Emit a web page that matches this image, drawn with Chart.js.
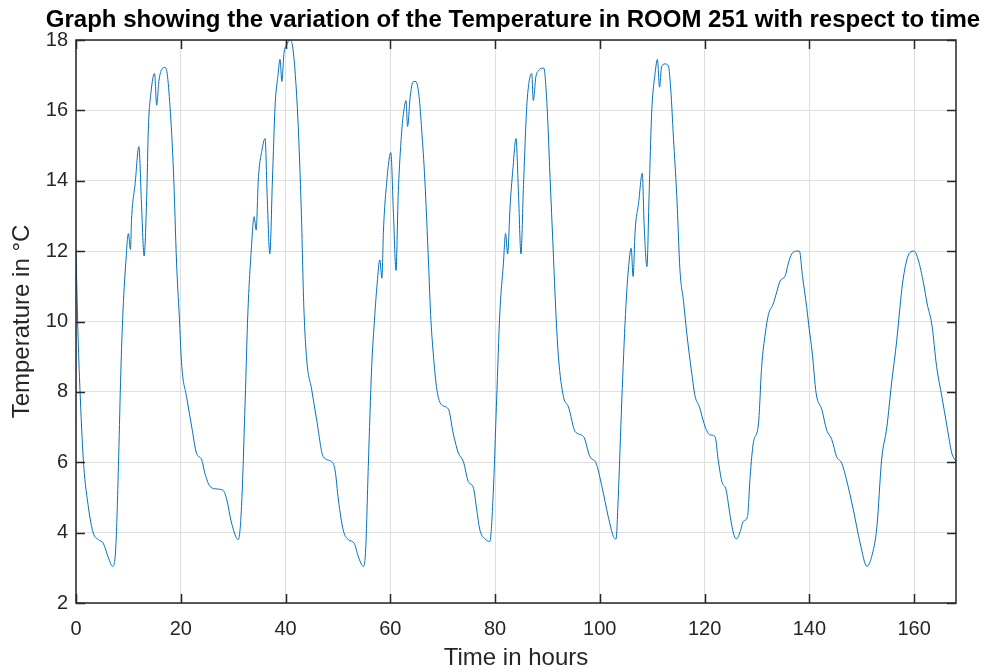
<!DOCTYPE html>
<html>
<head>
<meta charset="utf-8">
<script src="https://cdn.jsdelivr.net/npm/chart.js@4.4.1/dist/chart.umd.min.js"></script>
<style>
  html, body { margin: 0; padding: 0; background: #ffffff; }
  #c { display: block; }
</style>
</head>
<body>
<canvas id="c" width="989" height="670"></canvas>
<script>
// ---- data ----
const titleText = "Graph showing the variation of the Temperature in ROOM 251 with respect to time";
const xLabel = "Time in hours";
const yLabel = "Temperature in \u00B0C";

const hours = [
  0, 0.35, 0.76, 1.4, 2.35, 3.3, 4.27, 5.2, 6.2, 7.0, 7.6, 8.1, 8.5, 8.9, 9.5, 10.0, 10.4, 10.6, 11.3, 12.0,
  12.5, 13.0, 13.5, 13.8, 14.3, 15.0, 15.4, 15.85, 16.4, 17.0, 17.4, 17.95, 18.6, 19.2, 19.7, 20.2, 21.1, 22.1, 23.0, 24.0,
  24.6, 25.6, 26.9, 28.1, 28.8, 29.7, 31.0, 31.6, 32.3, 32.8, 33.5, 34.0, 34.4, 34.8, 35.5, 36.1, 36.5, 37.0, 37.5, 38.0,
  38.6, 38.95, 39.3, 39.7, 40.2, 40.9, 41.3, 41.8, 42.4, 43.0, 43.5, 44.05, 45.0, 45.95, 47.2, 48.8, 49.45, 50.1, 51.0, 52.0,
  53.1, 53.9, 54.85, 55.3, 55.8, 56.45, 56.9, 57.5, 58.0, 58.4, 58.7, 59.3, 60.1, 60.6, 61.1, 61.5, 62.2, 62.6, 63.0, 63.3,
  63.8, 64.4, 64.9, 65.5, 66.0, 66.6, 67.3, 67.7, 68.2, 68.9, 69.8, 71.1, 72.0, 73.0, 73.95, 74.9, 75.9, 76.5, 77.1, 78.1,
  79.0, 79.6, 80.3, 80.9, 81.6, 82.0, 82.4, 82.9, 83.4, 84.0, 84.45, 84.95, 85.4, 86.05, 86.55, 87.0, 87.3, 87.8, 88.3, 88.9,
  89.3, 89.9, 90.5, 91.1, 91.6, 92.1, 93.05, 94.0, 95.3, 96.9, 98.1, 99.3, 100.4, 101.6, 102.6, 103.1, 103.5, 104.2, 104.9, 105.45,
  106.0, 106.35, 106.75, 107.4, 108.1, 108.5, 109.0, 109.4, 109.9, 110.55, 111.0, 111.4, 111.8, 112.45, 113.1, 113.55, 114.05, 114.7, 115.3, 116.0,
  116.6, 117.55, 118.2, 119.0, 120.1, 121.0, 122.0, 122.6, 123.3, 124.1, 124.9, 125.5, 126.1, 126.8, 127.4, 128.2, 128.7, 129.3, 130.3, 130.9,
  131.6, 132.2, 133.1, 133.8, 134.4, 135.4, 136.0, 136.65, 137.6, 138.1, 138.7, 139.5, 140.0, 140.5, 141.3, 142.4, 143.3, 144.3, 145.2, 146.2,
  147.1, 148.4, 149.7, 151.0, 151.9, 152.9, 153.8, 154.8, 155.7, 156.7, 157.3, 157.8, 158.6, 159.2, 160.0, 160.8, 161.8, 162.5, 163.4, 164.3,
  165.3, 166.3, 167.2, 168.0
];

const tempC = [
  12.0, 9.8, 8.06, 6.07, 4.74, 3.99, 3.8, 3.7, 3.28, 3.04, 3.6, 5.88, 8.26, 10.05, 11.66, 12.5, 12.05, 12.89, 13.93, 14.97,
  13.36, 11.86, 13.55, 15.44, 16.49, 17.05, 16.15, 16.86, 17.17, 17.22, 17.05, 16.1, 14.3, 11.66, 10.2, 8.72, 7.87, 7.0, 6.26, 6.07,
  5.69, 5.31, 5.24, 5.2, 4.93, 4.27, 3.8, 4.74, 7.77, 10.2, 12.13, 12.98, 12.6, 14.02, 14.87, 15.2, 13.55, 11.92, 14.02, 16.1,
  17.05, 17.45, 16.82, 17.62, 17.86, 18.0, 17.86, 17.15, 15.63, 13.2, 10.4, 8.91, 8.06, 7.2, 6.16, 6.02, 5.78, 4.93, 4.08, 3.8,
  3.7, 3.32, 3.04, 3.51, 5.88, 8.72, 9.86, 11.09, 11.75, 11.23, 12.6, 13.93, 14.8, 13.08, 11.45, 13.55, 15.44, 16.01, 16.28, 15.54,
  16.39, 16.82, 16.82, 16.39, 15.44, 14.02, 11.66, 10.2, 9.1, 8.06, 7.63, 7.51, 6.83, 6.26, 6.02, 5.45, 5.26, 4.65, 4.08, 3.82,
  3.75, 4.93, 7.77, 10.2, 11.66, 12.5, 11.92, 13.36, 14.31, 15.2, 13.74, 11.92, 13.74, 16.1, 16.86, 17.05, 16.28, 16.96, 17.13, 17.2,
  17.2, 16.2, 14.1, 12.03, 10.3, 9.0, 7.87, 7.58, 6.87, 6.73, 6.16, 5.97, 5.31, 4.46, 3.89, 3.82, 4.93, 7.77, 10.2, 11.47,
  12.08, 11.28, 12.6, 13.36, 14.21, 12.6, 11.56, 13.55, 15.92, 17.05, 17.45, 16.66, 17.24, 17.32, 17.26, 16.58, 15.25, 13.55, 11.47, 10.55,
  9.67, 8.53, 7.87, 7.58, 7.01, 6.78, 6.73, 6.07, 5.45, 5.22, 4.46, 3.99, 3.82, 4.03, 4.32, 4.46, 5.6, 6.54, 7.11, 8.72,
  9.67, 10.2, 10.5, 10.85, 11.15, 11.3, 11.66, 11.92, 12.0, 12.0, 11.28, 10.4, 9.76, 9.19, 7.96, 7.49, 6.92, 6.64, 6.16, 5.97,
  5.5, 4.65, 3.7, 3.04, 3.32, 4.17, 6.07, 7.0, 8.25, 9.48, 10.4, 11.09, 11.75, 11.96, 12.0, 11.75, 11.09, 10.5, 9.9, 8.72,
  7.87, 7.0, 6.26, 6.02
];

const xTicks = [0, 20, 40, 60, 80, 100, 120, 140, 160];
const yTicks = [2, 4, 6, 8, 10, 12, 14, 16, 18];
const xRange = [0, 168];
const yRange = [2, 18];

// ---- chart ----
const FONT = "'Liberation Sans', Arial, Helvetica, sans-serif";
const AXIS_COLOR = '#262626';

const points = hours.map((h, i) => ({ x: h, y: tempC[i] }));

const matlabAxes = {
  id: 'matlabAxes',
  afterDatasetsDraw(chart) {
    const { ctx, chartArea: a, scales } = chart;
    ctx.save();
    ctx.strokeStyle = AXIS_COLOR;
    ctx.lineWidth = 1.5;
    ctx.strokeRect(a.left, a.top, a.right - a.left, a.bottom - a.top);
    const tl = 9;
    ctx.beginPath();
    xTicks.forEach(v => {
      const px = Math.round(scales.x.getPixelForValue(v)) + 0.5;
      ctx.moveTo(px, a.bottom); ctx.lineTo(px, a.bottom - tl);
      ctx.moveTo(px, a.top); ctx.lineTo(px, a.top + tl);
    });
    yTicks.forEach(v => {
      const py = Math.round(scales.y.getPixelForValue(v)) + 0.5;
      ctx.moveTo(a.left, py); ctx.lineTo(a.left + tl, py);
      ctx.moveTo(a.right, py); ctx.lineTo(a.right - tl, py);
    });
    ctx.lineWidth = 1.5;
    ctx.stroke();
    ctx.restore();
  },
  afterDraw(chart) {
    const { ctx, chartArea: a } = chart;
    ctx.save();
    ctx.fillStyle = '#000000';
    ctx.font = "bold 24px " + FONT;
    ctx.textAlign = 'center';
    ctx.textBaseline = 'alphabetic';
    ctx.fillText(titleText, (a.left + a.right) / 2 - 3, 27);

    ctx.fillStyle = AXIS_COLOR;
    ctx.font = "24px " + FONT;
    ctx.fillText(xLabel, (a.left + a.right) / 2, 665);

    ctx.translate(29, (a.top + a.bottom) / 2);
    ctx.rotate(-Math.PI / 2);
    ctx.fillText(yLabel, 0, 0);
    ctx.restore();
  }
};

new Chart(document.getElementById('c'), {
  type: 'line',
  data: {
    datasets: [{
      data: points,
      borderColor: '#0072BD',
      borderWidth: 1,
      pointRadius: 0,
      fill: false,
      cubicInterpolationMode: 'monotone'
    }]
  },
  options: {
    responsive: false,
    animation: false,
    devicePixelRatio: 1,
    layout: { padding: { top: 40, right: 33, left: 0, bottom: 0 } },
    plugins: { legend: { display: false }, title: { display: false }, tooltip: { enabled: false } },
    scales: {
      x: {
        type: 'linear',
        min: xRange[0], max: xRange[1],
        afterFit(s) { s.height = 67; },
        afterBuildTicks(s) { s.ticks = xTicks.map(v => ({ value: v })); },
        grid: { color: '#dfdfdf', lineWidth: 1, drawTicks: false },
        border: { display: false },
        ticks: { color: AXIS_COLOR, font: { size: 20, family: FONT }, padding: 14, maxRotation: 0, autoSkip: false }
      },
      y: {
        type: 'linear',
        min: yRange[0], max: yRange[1],
        afterFit(s) { s.width = 76; },
        afterBuildTicks(s) { s.ticks = yTicks.map(v => ({ value: v })); },
        grid: { color: '#dfdfdf', lineWidth: 1, drawTicks: false },
        border: { display: false },
        ticks: { color: AXIS_COLOR, font: { size: 20, family: FONT }, padding: 8, autoSkip: false }
      }
    }
  },
  plugins: [matlabAxes]
});
</script>
</body>
</html>
